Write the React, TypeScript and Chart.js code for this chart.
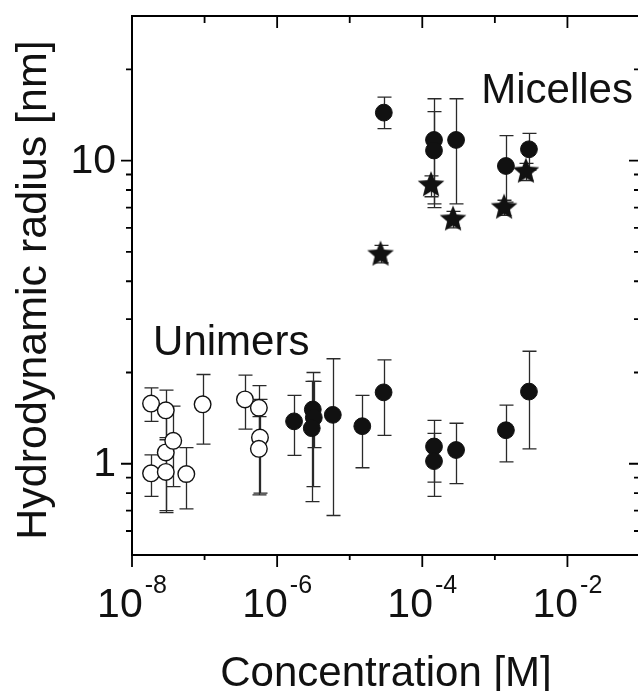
import React, { useEffect, useRef } from "react";
import { Chart, registerables } from "chart.js";
Chart.register(...registerables);

// ---- Data ----
// Unimers, open circles
const openX = [1.83e-8, 1.83e-8, 2.92e-8, 2.92e-8, 2.92e-8, 3.7e-8, 5.6e-8, 9.4e-8, 3.6e-7, 5.6e-7, 5.8e-7, 5.6e-7];
const openY = [1.58, 0.93, 1.5, 1.09, 0.94, 1.19, 0.925, 1.57, 1.63, 1.53, 1.22, 1.12];
const openHi = [1.78, 1.07, 1.75, 1.47, 1.22, 1.55, 1.13, 1.97, 1.96, 1.81, 1.63, 1.43];
const openLo = [1.38, 0.78, 1.2, 0.7, 0.69, 0.84, 0.71, 1.16, 1.3, 1.25, 0.8, 0.79];

// Unimers, filled circles
const uniX = [1.71e-6, 3.1e-6, 3.2e-6, 3.0e-6, 5.85e-6, 1.49e-5, 2.93e-5, 1.45e-4, 1.45e-4, 2.92e-4, 1.42e-3, 2.95e-3];
const uniY = [1.38, 1.51, 1.42, 1.31, 1.45, 1.33, 1.72, 1.14, 1.02, 1.11, 1.29, 1.73];
const uniHi = [1.68, 2.0, 1.87, 1.87, 2.22, 1.68, 2.2, 1.39, 1.26, 1.36, 1.56, 2.35];
const uniLo = [1.065, 0.84, 1.13, 0.75, 0.675, 0.97, 1.24, 0.87, 0.78, 0.86, 1.015, 1.12];

// Micelles, filled circles
const micX = [2.95e-5, 1.45e-4, 1.45e-4, 2.92e-4, 1.42e-3, 2.95e-3];
const micY = [14.4, 11.7, 10.8, 11.7, 9.6, 10.9];
const micHi = [16.2, 16.0, 14.5, 16.0, 12.1, 12.3];
const micLo = [12.75, 7.2, 7.0, 7.2, 7.3, 9.3];

// Micelles, stars
const starX = [2.66e-5, 1.32e-4, 2.65e-4, 1.34e-3, 2.68e-3];
const starY = [4.9, 8.3, 6.4, 7.0, 9.2];
const starHi = [5.25, 8.9, 6.8, 7.4, 9.8];
const starLo = [4.6, 7.6, 6.0, 6.6, 8.6];

// Axes
const xMin = 1e-8;
const xMax = 1e-1;
const yMin = 0.5;
const yMax = 30;
const xTickValues = [1e-8, 1e-7, 1e-6, 1e-5, 1e-4, 1e-3, 1e-2, 1e-1];
const xTickExponents = [-8, -7, -6, -5, -4, -3, -2, -1];
const yMajorTicks = [1, 10];
const yMajorLabels = ["1", "10"];
const yMinorTicks = [0.6, 0.7, 0.8, 0.9, 2, 3, 4, 5, 6, 7, 8, 9, 20];

const xTitle = "Concentration [M]";
const yTitle = "Hydrodynamic radius [nm]";
const micellesLabel = "Micelles";
const unimersLabel = "Unimers";

const FONT = '"Liberation Sans", Arial, Helvetica, sans-serif';

function zip(xs: number[], ys: number[], hi: number[], lo: number[]) {
  return xs.map((x, i) => ({ x, y: ys[i], hi: hi[i], lo: lo[i] }));
}

function makeStar(): HTMLCanvasElement {
  const c = document.createElement("canvas");
  c.width = 32;
  c.height = 32;
  const g = c.getContext("2d")!;
  const R = 14;
  const r = 6.2;
  g.beginPath();
  for (let i = 0; i < 10; i++) {
    const rad = i % 2 === 0 ? R : r;
    const a = -Math.PI / 2 + (i * Math.PI) / 5;
    const px = 16 + rad * Math.cos(a);
    const py = 16 + rad * Math.sin(a);
    if (i === 0) g.moveTo(px, py);
    else g.lineTo(px, py);
  }
  g.closePath();
  g.fillStyle = "#111";
  g.fill();
  return c;
}

const decorPlugin = {
  id: "decor",
  beforeDatasetsDraw(chart: any) {
    const ctx = chart.ctx;
    const xs = chart.scales.x;
    const ys = chart.scales.y;
    ctx.save();
    ctx.strokeStyle = "#2a2a2a";
    ctx.lineWidth = 1.3;
    chart.data.datasets.forEach((ds: any) => {
      ds.data.forEach((p: any) => {
        const px = Math.round(xs.getPixelForValue(p.x)) + 0.5;
        const t = ys.getPixelForValue(p.hi);
        const b = ys.getPixelForValue(p.lo);
        ctx.beginPath();
        ctx.moveTo(px, t);
        ctx.lineTo(px, b);
        ctx.moveTo(px - 7, t);
        ctx.lineTo(px + 7, t);
        ctx.moveTo(px - 7, b);
        ctx.lineTo(px + 7, b);
        ctx.stroke();
      });
    });
    ctx.restore();
  },
  afterDraw(chart: any) {
    const ctx = chart.ctx;
    const xs = chart.scales.x;
    const ys = chart.scales.y;
    const { left, right, top, bottom } = chart.chartArea;
    ctx.save();
    // frame
    ctx.strokeStyle = "#000";
    ctx.lineWidth = 2;
    ctx.beginPath();
    ctx.rect(left, top, right - left, bottom - top);
    ctx.stroke();

    // x ticks
    ctx.lineWidth = 1.8;
    xTickValues.forEach((v, i) => {
      const px = xs.getPixelForValue(v);
      const major = xTickExponents[i] % 2 === 0;
      ctx.beginPath();
      ctx.moveTo(px, bottom);
      ctx.lineTo(px, bottom + (major ? 12 : 5));
      ctx.moveTo(px, top);
      ctx.lineTo(px, top + (major ? 12 : 7));
      ctx.stroke();
    });
    // y ticks
    const yTick = (v: number, major: boolean) => {
      const py = ys.getPixelForValue(v);
      ctx.beginPath();
      ctx.moveTo(left, py);
      ctx.lineTo(left - (major ? 11 : 6), py);
      ctx.moveTo(right, py);
      ctx.lineTo(right - (major ? 11 : 6), py);
      ctx.stroke();
    };
    yMajorTicks.forEach((v) => yTick(v, true));
    yMinorTicks.forEach((v) => yTick(v, false));

    ctx.fillStyle = "#111";
    // x tick labels
    xTickValues.forEach((v, i) => {
      const e = xTickExponents[i];
      if (e % 2 !== 0) return;
      const px = xs.getPixelForValue(v);
      ctx.font = `41px ${FONT}`;
      const w1 = ctx.measureText("10").width;
      ctx.font = `25px ${FONT}`;
      const sup = String(e);
      const w2 = ctx.measureText(sup).width;
      const start = px - (w1 + 2 + w2) / 2;
      ctx.textAlign = "left";
      ctx.textBaseline = "alphabetic";
      ctx.font = `41px ${FONT}`;
      ctx.fillText("10", start, 617);
      ctx.font = `25px ${FONT}`;
      ctx.fillText(sup, start + w1 + 2, 593);
    });
    // y tick labels
    ctx.font = `41px ${FONT}`;
    ctx.textAlign = "right";
    yMajorTicks.forEach((v, i) => {
      const py = ys.getPixelForValue(v);
      ctx.fillText(yMajorLabels[i], left - 16, py + 12);
    });

    // axis titles
    ctx.font = `42px ${FONT}`;
    ctx.textAlign = "center";
    ctx.fillText(xTitle, (left + right) / 2, 686);
    ctx.save();
    ctx.translate(46, 290);
    ctx.rotate(-Math.PI / 2);
    ctx.font = `43px ${FONT}`;
    ctx.fillText(yTitle, 0, 0);
    ctx.restore();

    // annotations
    ctx.font = `42px ${FONT}`;
    ctx.textAlign = "left";
    ctx.fillText(micellesLabel, xs.getPixelForValue(6.5e-4), ys.getPixelForValue(15.5));
    ctx.fillText(unimersLabel, xs.getPixelForValue(1.95e-8), ys.getPixelForValue(2.29));
    ctx.restore();
  },
};

export default function App() {
  const ref = useRef<HTMLCanvasElement | null>(null);
  useEffect(() => {
    if (!ref.current) return;
    const star = makeStar();
    const chart = new Chart(ref.current, {
      type: "scatter",
      data: {
        datasets: [
          {
            label: "stars",
            data: zip(starX, starY, starHi, starLo),
            pointStyle: star as any,
            pointRadius: 14,
          },
          {
            label: "micelles",
            data: zip(micX, micY, micHi, micLo),
            pointRadius: 8.4,
            pointBackgroundColor: "#111",
            pointBorderColor: "#111",
            pointBorderWidth: 1,
          },
          {
            label: "unimers filled",
            data: zip(uniX, uniY, uniHi, uniLo),
            pointRadius: 8.4,
            pointBackgroundColor: "#111",
            pointBorderColor: "#111",
            pointBorderWidth: 1,
          },
          {
            label: "unimers open",
            data: zip(openX, openY, openHi, openLo),
            pointRadius: 8.3,
            pointBackgroundColor: "#fff",
            pointBorderColor: "#111",
            pointBorderWidth: 1.4,
          },
        ],
      },
      options: {
        animation: false,
        responsive: false,
        devicePixelRatio: 1,
        layout: { autoPadding: false, padding: { left: 132, top: 16, right: 1, bottom: 136 } },
        scales: {
          x: { type: "logarithmic", min: xMin, max: xMax, display: false },
          y: { type: "logarithmic", min: yMin, max: yMax, display: false },
        },
        plugins: { legend: { display: false }, tooltip: { enabled: false } },
        elements: { point: { hoverRadius: 8 } },
      } as any,
      plugins: [decorPlugin],
    });
    return () => chart.destroy();
  }, []);
  return (
    <div
      style={{
        position: "fixed",
        left: 0,
        top: 0,
        width: 638,
        height: 691,
        overflow: "hidden",
        background: "#fff",
      }}
    >
      <canvas ref={ref} width={641} height={691} style={{ display: "block" }} />
    </div>
  );
}
